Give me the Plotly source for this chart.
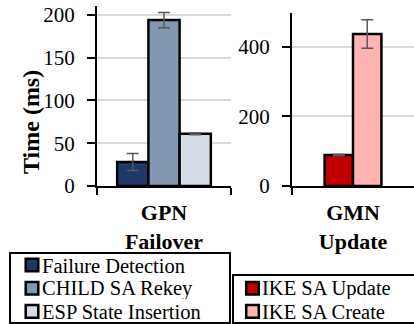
import plotly.graph_objects as go

# ---- data ----
gpn_category = ["GPN<br>Failover"]
gmn_category = ["GMN<br>Update"]

gpn_series = ["Failure Detection", "CHILD SA Rekey", "ESP State Insertion"]
gpn_values = [28, 194, 61]
gpn_errors = [10, 9, 1]

gmn_series = ["IKE SA Update", "IKE SA Create"]
gmn_values = [89, 436]
gmn_errors = [2, 41]

gpn_colors = ["#1f3864", "#8497b0", "#d6dce5"]
gmn_colors = ["#c00000", "#ffb3b3"]

W, H = 414, 324
FONT = "Liberation Serif"
bar_w = 0.233

fig = go.Figure()

gpn_offsets = [-1.5 * bar_w, -0.5 * bar_w, 0.5 * bar_w]
for name, v, e, c, off in zip(gpn_series, gpn_values, gpn_errors, gpn_colors, gpn_offsets):
    fig.add_trace(go.Bar(
        x=gpn_category, y=[v], name=name, xaxis="x", yaxis="y",
        width=bar_w, offset=off, showlegend=False,
        marker=dict(color=c, line=dict(color="black", width=2.5)),
        error_y=dict(type="data", array=[e], color="#595959", thickness=1.5, width=6),
    ))

gmn_offsets = [-1.0 * bar_w, 0.0]
for name, v, e, c, off in zip(gmn_series, gmn_values, gmn_errors, gmn_colors, gmn_offsets):
    fig.add_trace(go.Bar(
        x=gmn_category, y=[v], name=name, xaxis="x2", yaxis="y2",
        width=bar_w, offset=off, showlegend=False,
        marker=dict(color=c, line=dict(color="black", width=2.5)),
        error_y=dict(type="data", array=[e], color="#595959", thickness=1.5, width=6),
    ))


def px_x(p):
    return p / W


def px_y(p):
    return 1 - p / H


xcommon = dict(
    type="category", showline=True, linecolor="black", linewidth=2,
    ticks="outside", tickson="boundaries", ticklen=7, tickwidth=2, tickcolor="black",
    showgrid=False, zeroline=False, fixedrange=True,
    tickfont=dict(family=FONT, size=22, color="black", weight="bold"),
    ticklabelstandoff=6,
)
ycommon = dict(
    showline=True, linecolor="black", linewidth=2,
    ticks="outside", ticklen=8, tickwidth=2, tickcolor="black",
    showgrid=True, gridcolor="#d9d9d9", gridwidth=1.5, zeroline=False,
    tickfont=dict(family=FONT, size=21, color="black"),
    ticklabelstandoff=8, fixedrange=True,
)

# ---- manual legends (boxes, swatches, labels) ----
shapes = []
annotations = []

legend_specs = [
    # (series, colors, box x0, x1, y0, y1, swatch center x, text x, row ys)
    (gpn_series, gpn_colors, 10, 230, 253, 323, 32, 41, [265.0, 288.2, 311.4]),
    (gmn_series, gmn_colors, 233, 418, 275, 323, 252.5, 261, [288.2, 311.4]),
]
for series, colors, bx0, bx1, by0, by1, sx, tx, rows in legend_specs:
    shapes.append(dict(
        type="rect", xref="paper", yref="paper",
        x0=px_x(bx0), x1=px_x(bx1), y0=px_y(by1), y1=px_y(by0),
        line=dict(color="black", width=2), fillcolor="rgba(0,0,0,0)", layer="above",
    ))
    for name, c, ry in zip(series, colors, rows):
        half = 6.3
        shapes.append(dict(
            type="rect", xref="paper", yref="paper",
            x0=px_x(sx - half), x1=px_x(sx + half), y0=px_y(ry + half), y1=px_y(ry - half),
            line=dict(color="black", width=2.5), fillcolor=c, layer="above",
        ))
        annotations.append(dict(
            text=name, x=px_x(tx), y=px_y(ry), xref="paper", yref="paper",
            xanchor="left", yanchor="middle", showarrow=False,
            height=21, valign="middle", borderpad=0,
            font=dict(family=FONT, size=20.5, color="black"),
        ))

annotations.append(dict(
    text="<b>Time (ms)</b>", textangle=-90,
    x=px_x(31), y=px_y(122), xref="paper", yref="paper",
    xanchor="center", yanchor="middle", showarrow=False,
    font=dict(family=FONT, size=24, color="black"),
))

fig.update_layout(
    width=W, height=H,
    margin=dict(l=0, r=0, t=0, b=0, autoexpand=False),
    paper_bgcolor="white", plot_bgcolor="white",
    barmode="overlay",
    showlegend=False,
    xaxis=dict(domain=[px_x(97), px_x(231)], anchor="y", **xcommon),
    yaxis=dict(domain=[px_y(186), px_y(6)], anchor="x", range=[0, 210.5], dtick=50, **ycommon),
    xaxis2=dict(domain=[px_x(292), 1.0], anchor="y2", **xcommon),
    yaxis2=dict(domain=[px_y(186), px_y(12.7)], anchor="x2", range=[0, 497], dtick=200, **ycommon),
    shapes=shapes,
    annotations=annotations,
)

fig.write_html(
    "out.html",
    config={"displayModeBar": False},
    post_script="document.body.style.margin='0';",
)
